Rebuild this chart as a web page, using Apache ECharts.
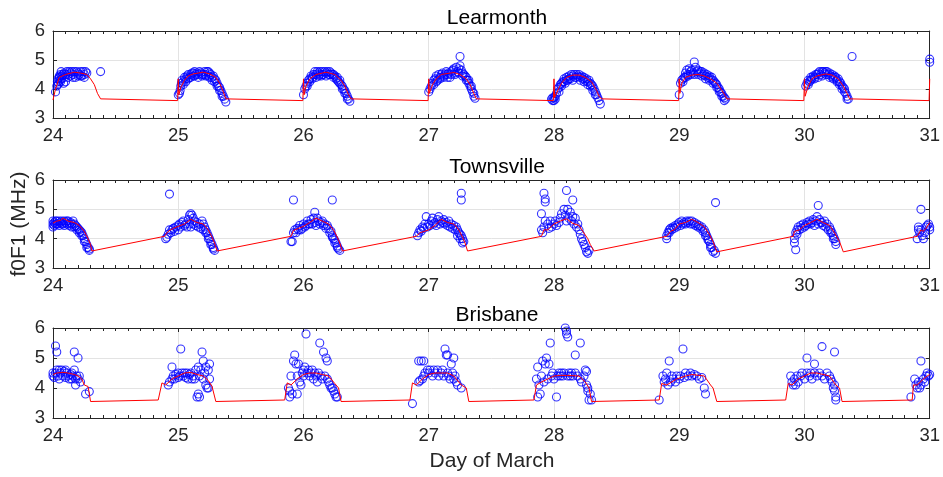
<!DOCTYPE html>
<html>
<head>
<meta charset="utf-8">
<script src="https://cdn.jsdelivr.net/npm/echarts@6/dist/echarts.min.js"></script>
<style>html,body{margin:0;padding:0;background:#fff}#c{width:943px;height:477px}</style>
</head>
<body>
<div id="c"></div>
<script>
const stationNames = ['Learmonth', 'Townsville', 'Brisbane'];
const xTicks = [24, 25, 26, 27, 28, 29, 30, 31];
const yTicks = [3, 4, 5, 6];
const yAxisTitle = 'f0F1 (MHz)';
const xAxisTitle = 'Day of March';

const learModel = [[24.0,3.62],[24.02,4.0],[24.05,4.4],[24.1,4.5],[24.17,4.58],[24.22,4.55],[24.27,4.5],[24.3,4.35],[24.33,4.15],[24.355,3.85],[24.36,3.8],[24.365,3.9],[24.37,3.85],[24.38,3.66],
[24.995,3.6],[25.0,4.35],[25.005,3.8],[25.02,4.05],[25.05,4.3],[25.08,4.45],[25.12,4.52],[25.2,4.58],[25.25,4.52],[25.3,4.4],[25.33,4.2],[25.36,3.9],[25.38,3.66],
[25.995,3.6],[26.0,4.35],[26.005,3.8],[26.02,4.1],[26.05,4.35],[26.1,4.5],[26.18,4.58],[26.25,4.5],[26.3,4.3],[26.33,4.1],[26.36,3.8],[26.38,3.66],
[26.995,3.6],[27.0,4.35],[27.005,3.85],[27.03,4.15],[27.06,4.35],[27.1,4.5],[27.2,4.57],[27.25,4.5],[27.3,4.35],[27.33,4.15],[27.36,3.85],[27.38,3.66],
[27.995,3.6],[28.0,4.35],[28.005,3.7],[28.03,3.95],[28.06,4.2],[28.1,4.4],[28.15,4.48],[28.2,4.48],[28.25,4.4],[28.3,4.25],[28.34,3.95],[28.36,3.75],[28.38,3.66],
[28.995,3.6],[29.0,4.35],[29.005,3.85],[29.02,4.2],[29.05,4.4],[29.1,4.48],[29.15,4.5],[29.2,4.45],[29.25,4.35],[29.3,4.2],[29.34,3.95],[29.37,3.75],[29.38,3.66],
[29.995,3.6],[30.0,4.35],[30.005,3.75],[30.03,4.1],[30.06,4.35],[30.1,4.45],[30.17,4.52],[30.22,4.48],[30.27,4.35],[30.31,4.1],[30.34,3.85],[30.36,3.66],
[30.995,3.6],[31.0,4.35]];

const learObs = [[24.02,3.9],[24.03,4.1],[24.035,4.25],[24.04,4.35],[24.045,4.2],[24.05,4.4],[24.055,4.3],[24.06,4.5],[24.065,4.6],[24.07,4.45],[24.08,4.5],[24.085,4.2],[24.09,4.55],[24.1,4.5],[24.1,4.25],[24.11,4.6],[24.12,4.5],[24.13,4.6],[24.14,4.55],[24.15,4.6],[24.16,4.5],[24.17,4.6],[24.18,4.4],[24.19,4.6],[24.2,4.55],[24.21,4.5],[24.22,4.6],[24.23,4.45],[24.24,4.6],[24.25,4.5],[24.26,4.6],[24.27,4.55],[24.38,4.6],
[24.05,4.45],[24.07,4.35],[24.09,4.4],[24.12,4.4],[24.14,4.45],[24.16,4.4],[24.2,4.45],[24.22,4.45],[24.25,4.4],[24.06,4.25],[24.04,4.15],
[25.0,3.8],[25.01,3.85],[25.015,3.95],[25.02,4.1],[25.025,4.2],[25.03,4.3],[25.04,4.25],[25.05,4.4],[25.06,4.35],[25.07,4.45],[25.08,4.5],[25.09,4.4],[25.1,4.5],[25.11,4.55],[25.12,4.45],[25.13,4.6],[25.14,4.5],[25.15,4.55],[25.16,4.5],[25.17,4.6],[25.18,4.55],[25.19,4.45],[25.2,4.5],[25.21,4.6],[25.22,4.5],[25.23,4.6],[25.24,4.45],[25.25,4.55],[25.26,4.5],[25.27,4.4],[25.28,4.45],[25.29,4.35],[25.3,4.3],[25.31,4.2],[25.32,4.1],[25.33,4.05],[25.34,3.95],[25.35,3.85],[25.36,3.75],[25.37,3.65],[25.38,3.55],
[25.04,4.15],[25.06,4.25],[25.08,4.35],[25.1,4.4],[25.13,4.45],[25.16,4.4],[25.19,4.5],[25.22,4.45],[25.25,4.4],[25.27,4.3],[25.29,4.25],[25.31,4.1],[25.33,3.95],[25.35,3.75],[25.12,4.55],[25.24,4.6],
[26.0,3.8],[26.01,4.0],[26.02,4.1],[26.03,4.2],[26.04,4.3],[26.05,4.35],[26.06,4.45],[26.07,4.4],[26.08,4.5],[26.09,4.6],[26.1,4.5],[26.11,4.6],[26.12,4.55],[26.13,4.6],[26.14,4.45],[26.15,4.6],[26.16,4.5],[26.17,4.6],[26.18,4.55],[26.19,4.6],[26.2,4.5],[26.21,4.6],[26.22,4.55],[26.23,4.5],[26.24,4.4],[26.25,4.45],[26.26,4.35],[26.27,4.3],[26.28,4.25],[26.29,4.2],[26.3,4.15],[26.31,4.1],[26.32,4.0],[26.33,3.95],[26.34,3.85],[26.35,3.75],[26.36,3.65],[26.37,3.58],
[26.03,4.1],[26.05,4.25],[26.07,4.35],[26.1,4.4],[26.12,4.45],[26.15,4.5],[26.18,4.45],[26.21,4.5],[26.24,4.5],[26.27,4.4],[26.29,4.3],[26.31,4.0],[26.33,3.85],[26.35,3.65],[26.13,4.5],
[27.0,3.9],[27.01,4.0],[27.02,4.1],[27.03,4.2],[27.04,4.3],[27.05,4.35],[27.06,4.45],[27.07,4.3],[27.08,4.5],[27.09,4.4],[27.1,4.5],[27.11,4.55],[27.12,4.45],[27.13,4.5],[27.14,4.6],[27.15,4.5],[27.16,4.55],[27.17,4.4],[27.18,4.6],[27.19,4.65],[27.2,4.7],[27.21,4.55],[27.22,4.75],[27.23,4.6],[27.24,4.7],[27.25,5.12],[27.25,4.8],[27.26,4.65],[27.27,4.55],[27.28,4.5],[27.29,4.45],[27.3,4.4],[27.31,4.3],[27.32,4.2],[27.33,4.1],[27.34,4.0],[27.35,3.9],[27.36,3.75],[27.37,3.68],
[27.04,4.15],[27.06,4.25],[27.09,4.35],[27.12,4.4],[27.15,4.4],[27.18,4.5],[27.21,4.5],[27.24,4.55],[27.27,4.45],[27.3,4.3],[27.32,4.3],[27.34,4.1],[27.36,3.85],
[27.98,3.65],[27.99,3.6],[28.0,3.6],[28.0,3.7],[28.01,3.75],[28.02,3.85],[28.03,4.0],[28.04,3.9],[28.05,4.15],[28.06,4.1],[28.07,4.25],[28.08,4.35],[28.09,4.2],[28.1,4.4],[28.11,4.3],[28.12,4.45],[28.13,4.35],[28.14,4.5],[28.15,4.45],[28.16,4.5],[28.17,4.4],[28.18,4.5],[28.19,4.45],[28.2,4.5],[28.21,4.4],[28.22,4.45],[28.23,4.35],[28.24,4.4],[28.25,4.3],[28.26,4.35],[28.27,4.25],[28.28,4.3],[28.29,4.2],[28.3,4.15],[28.31,4.1],[28.32,4.0],[28.33,3.9],[28.34,3.8],[28.35,3.7],[28.36,3.6],[28.37,3.48],
[28.04,4.05],[28.06,4.2],[28.08,4.25],[28.1,4.3],[28.12,4.35],[28.15,4.3],[28.18,4.4],[28.21,4.3],[28.24,4.25],[28.27,4.15],[28.29,4.1],[28.31,3.95],[28.33,3.8],[28.01,3.65],[27.99,3.7],
[29.0,3.8],[29.01,4.2],[29.02,4.3],[29.03,4.35],[29.04,4.4],[29.05,4.55],[29.06,4.65],[29.07,4.5],[29.08,4.7],[29.09,4.6],[29.1,4.65],[29.11,4.55],[29.12,4.93],[29.13,4.75],[29.14,4.6],[29.15,4.65],[29.16,4.55],[29.17,4.6],[29.18,4.6],[29.19,4.5],[29.2,4.55],[29.21,4.45],[29.22,4.5],[29.23,4.4],[29.24,4.45],[29.25,4.35],[29.26,4.4],[29.27,4.3],[29.28,4.25],[29.29,4.2],[29.3,4.15],[29.31,4.05],[29.32,4.0],[29.33,3.9],[29.34,3.85],[29.35,3.75],[29.36,3.7],[29.37,3.65],
[29.03,4.25],[29.05,4.4],[29.07,4.45],[29.09,4.5],[29.12,4.5],[29.15,4.5],[29.18,4.45],[29.21,4.35],[29.24,4.3],[29.27,4.2],[29.3,4.05],[29.32,3.9],[29.34,3.75],[29.36,3.6],
[30.01,4.1],[30.02,4.2],[30.03,4.3],[30.04,4.25],[30.05,4.4],[30.06,4.35],[30.07,4.45],[30.08,4.4],[30.09,4.5],[30.1,4.5],[30.11,4.55],[30.12,4.6],[30.13,4.5],[30.14,4.6],[30.15,4.6],[30.16,4.55],[30.17,4.6],[30.18,4.6],[30.19,4.5],[30.2,4.55],[30.21,4.45],[30.22,4.5],[30.23,4.4],[30.24,4.45],[30.25,4.4],[30.26,4.3],[30.27,4.35],[30.28,4.25],[30.29,4.2],[30.3,4.1],[30.31,4.05],[30.32,4.0],[30.33,3.85],[30.34,3.75],[30.35,3.65],[30.38,5.12],
[30.03,4.15],[30.05,4.3],[30.08,4.35],[30.11,4.4],[30.14,4.45],[30.17,4.5],[30.2,4.4],[30.23,4.35],[30.26,4.25],[30.28,4.15],[30.3,4.0],[30.32,3.9],[30.34,3.65],
[31.0,5.03],[31.0,4.92]];

const townModel = [[24.0,4.53],[24.03,4.6],[24.06,4.62],[24.08,4.7],[24.12,4.6],[24.17,4.55],[24.21,4.45],[24.25,4.25],[24.28,4.0],[24.3,3.8],[24.31,3.58],
[24.89,4.08],[24.92,4.25],[24.96,4.35],[25.0,4.42],[25.05,4.5],[25.1,4.66],[25.15,4.55],[25.2,4.5],[25.24,4.3],[25.27,4.05],[25.29,3.85],[25.31,3.58],
[25.9,4.08],[25.92,4.28],[25.96,4.35],[26.0,4.42],[26.05,4.55],[26.1,4.7],[26.15,4.6],[26.2,4.5],[26.24,4.3],[26.27,4.05],[26.29,3.85],[26.31,3.58],
[26.9,4.08],[26.93,4.2],[27.0,4.3],[27.05,4.45],[27.1,4.66],[27.15,4.55],[27.2,4.5],[27.24,4.3],[27.27,4.05],[27.29,3.85],[27.31,3.58],
[27.9,4.08],[27.92,4.3],[27.95,4.3],[28.0,4.5],[28.05,4.6],[28.1,4.68],[28.15,4.52],[28.2,4.45],[28.23,4.25],[28.27,4.0],[28.29,3.8],[28.32,3.58],
[28.9,4.08],[28.93,4.25],[28.96,4.3],[29.0,4.5],[29.05,4.55],[29.1,4.66],[29.15,4.55],[29.2,4.4],[29.24,4.15],[29.27,3.9],[29.3,3.55],
[29.91,4.08],[29.92,4.25],[29.96,4.3],[30.0,4.45],[30.05,4.55],[30.1,4.66],[30.15,4.55],[30.2,4.45],[30.24,4.2],[30.28,3.9],[30.31,3.55],
[30.9,4.08],[30.93,4.3],[30.95,4.25],[30.97,4.35],[31.0,4.55]];

const townObs = [[24.0,4.4],[24.0,4.5],[24.0,4.6],[24.01,4.55],[24.02,4.5],[24.02,4.6],[24.03,4.6],[24.04,4.5],[24.05,4.6],[24.06,4.55],[24.07,4.6],[24.08,4.5],[24.09,4.6],[24.1,4.55],[24.11,4.5],[24.12,4.6],[24.13,4.5],[24.14,4.55],[24.15,4.4],[24.16,4.6],[24.17,4.5],[24.18,4.45],[24.19,4.4],[24.2,4.35],[24.21,4.3],[24.22,4.25],[24.23,4.2],[24.24,4.1],[24.25,4.0],[24.26,3.9],[24.27,3.8],[24.28,3.7],[24.29,3.6],
[24.01,4.45],[24.03,4.5],[24.05,4.45],[24.07,4.5],[24.09,4.45],[24.11,4.6],[24.13,4.45],[24.15,4.5],[24.17,4.4],[24.19,4.3],[24.21,4.2],[24.23,4.1],[24.25,3.9],[24.27,3.7],[24.29,3.65],
[24.93,5.52],[24.9,4.0],[24.91,4.05],[24.92,4.15],[24.93,4.3],[24.95,4.3],[24.96,4.35],[24.98,4.4],[25.0,4.45],[25.01,4.5],[25.03,4.55],[25.04,4.6],[25.06,4.5],[25.08,4.65],[25.09,4.8],[25.1,4.85],[25.11,4.8],[25.1,4.4],[25.12,4.7],[25.13,4.6],[25.15,4.55],[25.17,4.5],[25.19,4.6],[25.2,4.5],[25.21,4.4],[25.22,4.3],[25.23,4.2],[25.24,4.1],[25.25,4.0],[25.26,3.9],[25.27,3.8],[25.28,3.7],[25.29,3.6],
[24.94,4.2],[24.97,4.25],[25.0,4.3],[25.02,4.4],[25.05,4.45],[25.07,4.4],[25.09,4.5],[25.12,4.5],[25.14,4.45],[25.16,4.4],[25.18,4.35],[25.2,4.3],[25.22,4.2],[25.24,4.0],[25.26,3.8],[25.28,3.65],
[25.92,5.32],[26.23,5.32],[25.9,3.9],[25.91,3.9],[25.92,4.2],[25.93,4.3],[25.95,4.35],[25.97,4.45],[25.98,4.3],[26.0,4.5],[26.01,4.4],[26.03,4.6],[26.05,4.5],[26.06,4.65],[26.08,4.7],[26.09,4.9],[26.1,4.45],[26.11,4.7],[26.12,4.6],[26.14,4.55],[26.15,4.6],[26.17,4.5],[26.19,4.45],[26.2,4.35],[26.22,4.25],[26.23,4.1],[26.24,4.0],[26.25,3.95],[26.26,3.85],[26.27,3.75],[26.28,3.65],[26.29,3.6],
[25.94,4.2],[25.96,4.3],[25.99,4.35],[26.02,4.45],[26.04,4.5],[26.07,4.5],[26.09,4.55],[26.13,4.5],[26.16,4.45],[26.18,4.35],[26.21,4.2],[26.23,4.05],[26.25,3.85],[26.27,3.7],
[27.26,5.55],[27.26,5.32],[26.91,4.1],[26.92,4.2],[26.93,4.3],[26.95,4.4],[26.97,4.5],[26.98,4.75],[27.0,4.5],[27.02,4.6],[27.03,4.7],[27.05,4.55],[27.07,4.65],[27.08,4.75],[27.1,4.6],[27.12,4.65],[27.14,4.55],[27.16,4.6],[27.18,4.5],[27.2,4.45],[27.22,4.4],[27.23,4.3],[27.24,4.2],[27.25,4.15],[27.26,4.1],[27.27,4.0],[27.28,3.9],
[26.94,4.25],[26.96,4.35],[26.99,4.4],[27.01,4.45],[27.04,4.5],[27.06,4.45],[27.09,4.5],[27.11,4.55],[27.13,4.5],[27.15,4.45],[27.17,4.4],[27.19,4.35],[27.21,4.3],[27.23,4.1],[27.25,4.0],[27.27,3.85],
[27.92,5.55],[27.93,5.35],[27.93,5.25],[27.9,4.85],[27.9,4.3],[27.91,4.2],[27.92,4.4],[27.93,4.6],[27.95,4.5],[27.96,4.35],[27.97,4.6],[27.98,4.4],[28.0,4.5],[28.01,4.6],[28.02,4.45],[28.04,4.55],[28.05,4.7],[28.06,4.85],[28.08,5.0],[28.09,4.8],[28.1,5.64],[28.1,4.6],[28.11,5.0],[28.12,4.7],[28.13,4.9],[28.14,4.6],[28.15,5.32],[28.15,4.75],[28.16,4.5],[28.17,4.7],[28.18,4.4],[28.19,4.5],[28.2,4.3],[28.21,4.15],[28.22,4.0],[28.23,3.9],[28.24,3.8],[28.25,3.7],[28.26,3.55],[28.27,3.5],[28.28,3.6],
[28.9,4.0],[28.9,4.1],[28.91,4.2],[28.92,4.3],[28.93,4.35],[28.95,4.4],[28.97,4.45],[28.99,4.5],[29.0,4.55],[29.02,4.6],[29.04,4.55],[29.06,4.6],[29.08,4.6],[29.1,4.6],[29.12,4.55],[29.14,4.5],[29.16,4.45],[29.18,4.4],[29.2,4.3],[29.21,4.2],[29.22,4.1],[29.23,4.0],[29.24,3.9],[29.25,3.8],[29.26,3.7],[29.28,3.6],[29.29,3.5],[29.29,5.23],
[28.92,4.2],[28.94,4.3],[28.96,4.35],[28.98,4.4],[29.01,4.45],[29.03,4.5],[29.05,4.5],[29.07,4.55],[29.09,4.5],[29.11,4.5],[29.13,4.45],[29.15,4.4],[29.17,4.35],[29.19,4.25],[29.21,4.1],[29.23,3.95],[29.25,3.7],[29.27,3.55],
[29.92,4.0],[29.92,3.85],[29.93,3.62],[29.93,4.2],[29.94,4.3],[29.95,4.4],[29.97,4.45],[29.99,4.5],[30.0,4.4],[30.02,4.55],[30.04,4.6],[30.05,4.5],[30.07,4.65],[30.09,4.6],[30.11,5.13],[30.1,4.75],[30.12,4.65],[30.14,4.55],[30.16,4.6],[30.18,4.5],[30.2,4.4],[30.21,4.3],[30.22,4.2],[30.23,4.1],[30.24,4.0],[30.25,3.9],
[29.94,4.15],[29.96,4.3],[29.98,4.35],[30.01,4.45],[30.03,4.5],[30.06,4.55],[30.08,4.45],[30.11,4.5],[30.13,4.55],[30.15,4.45],[30.17,4.4],[30.19,4.3],[30.21,4.2],[30.23,4.0],[30.25,3.8],
[30.9,4.0],[30.91,4.4],[30.91,4.3],[30.92,4.2],[30.93,5.0],[30.93,4.3],[30.94,4.1],[30.95,4.0],[30.96,4.2],[30.97,4.4],[30.98,4.45],[30.99,4.5],[31.0,4.4],[31.0,4.3]];

const brisModel = [[24.0,4.45],[24.03,4.5],[24.08,4.52],[24.12,4.5],[24.17,4.45],[24.2,4.4],[24.23,4.3],[24.25,4.1],[24.28,4.05],[24.3,3.55],
[24.84,3.6],[24.87,4.17],[24.9,4.1],[24.95,4.3],[25.0,4.4],[25.05,4.5],[25.1,4.52],[25.15,4.45],[25.2,4.4],[25.24,4.25],[25.27,4.05],[25.3,3.55],
[25.85,3.6],[25.87,4.17],[25.9,4.1],[25.95,4.3],[26.0,4.45],[26.05,4.5],[26.1,4.5],[26.15,4.45],[26.2,4.4],[26.25,4.15],[26.28,4.0],[26.3,3.55],
[26.85,3.6],[26.87,4.17],[26.9,4.1],[26.95,4.3],[27.0,4.45],[27.05,4.5],[27.1,4.5],[27.15,4.5],[27.2,4.4],[27.26,4.1],[27.3,4.0],[27.32,3.55],
[27.84,3.6],[27.86,4.1],[27.9,4.2],[27.95,4.3],[28.0,4.4],[28.05,4.42],[28.1,4.42],[28.2,4.4],[28.25,4.2],[28.28,4.0],[28.3,3.55],
[28.84,3.6],[28.86,4.15],[28.9,4.1],[28.98,4.3],[29.05,4.4],[29.1,4.45],[29.2,4.4],[29.25,4.1],[29.27,4.0],[29.3,3.55],
[29.85,3.6],[29.87,4.15],[29.9,4.1],[29.95,4.3],[30.0,4.4],[30.05,4.5],[30.1,4.5],[30.2,4.4],[30.25,4.1],[30.28,4.0],[30.3,3.55],
[30.86,3.6],[30.87,4.1],[30.9,4.1],[30.95,4.3],[30.98,4.4],[31.0,4.45]];

const brisObs = [[24.0,4.4],[24.0,4.5],[24.01,4.35],[24.02,5.4],[24.03,5.2],[24.02,4.5],[24.03,4.6],[24.04,4.4],[24.05,4.6],[24.05,4.3],[24.06,4.5],[24.07,4.6],[24.08,4.4],[24.09,4.55],[24.1,4.6],[24.1,4.35],[24.11,4.5],[24.12,4.4],[24.13,4.3],[24.14,4.45],[24.15,4.5],[24.15,4.3],[24.16,4.4],[24.17,5.2],[24.17,4.6],[24.18,4.1],[24.18,4.3],[24.19,4.4],[24.2,5.0],[24.2,4.3],[24.21,4.4],[24.22,4.2],[24.26,3.8],[24.29,3.88],
[24.92,4.1],[24.93,4.2],[24.95,4.7],[24.95,4.3],[24.96,4.4],[24.97,4.3],[24.98,4.45],[25.0,4.5],[25.0,4.35],[25.01,4.4],[25.02,5.3],[25.03,4.5],[25.04,4.4],[25.05,4.5],[25.06,4.35],[25.07,4.5],[25.08,4.3],[25.09,4.45],[25.1,4.5],[25.11,4.3],[25.12,4.4],[25.13,4.3],[25.14,4.6],[25.15,3.7],[25.16,4.7],[25.16,3.8],[25.17,4.4],[25.17,3.7],[25.18,4.6],[25.19,5.2],[25.2,4.9],[25.2,4.3],[25.21,4.5],[25.22,4.7],[25.22,4.1],[25.23,4.0],[25.24,4.6],[25.25,4.8],[25.25,4.3],[25.24,4.0],
[25.88,4.0],[25.89,3.9],[25.89,3.7],[25.9,4.4],[25.91,3.8],[25.92,4.9],[25.93,5.1],[25.94,4.8],[25.95,4.4],[25.95,3.8],[25.96,4.8],[25.97,4.2],[25.98,4.1],[25.99,4.5],[26.0,4.6],[26.0,4.4],[26.01,4.7],[26.02,5.8],[26.03,4.5],[26.04,4.6],[26.05,4.4],[26.06,4.5],[26.07,4.6],[26.08,4.3],[26.09,4.5],[26.1,4.4],[26.11,4.2],[26.12,4.5],[26.13,5.5],[26.14,4.4],[26.15,4.3],[26.16,5.2],[26.17,4.4],[26.18,5.0],[26.19,4.9],[26.19,4.3],[26.2,4.2],[26.21,4.1],[26.22,4.0],[26.23,4.0],[26.24,3.9],[26.25,3.8],[26.26,3.7],[26.27,3.7],
[26.87,3.48],[26.92,4.9],[26.94,4.9],[26.96,4.9],[26.92,4.2],[26.93,4.25],[26.95,4.3],[26.96,4.4],[26.97,4.5],[26.99,4.6],[27.0,4.5],[27.01,4.6],[27.03,4.4],[27.04,4.6],[27.05,4.5],[27.07,4.6],[27.08,4.4],[27.1,4.5],[27.11,4.6],[27.12,4.4],[27.13,5.3],[27.14,5.1],[27.15,5.1],[27.15,4.5],[27.16,4.4],[27.17,4.3],[27.18,4.8],[27.19,4.5],[27.2,5.0],[27.2,4.3],[27.21,4.4],[27.22,4.2],[27.23,4.1],[27.26,4.0],
[27.86,4.3],[27.87,4.7],[27.87,3.7],[27.88,4.1],[27.89,3.8],[27.9,4.4],[27.91,4.9],[27.92,4.2],[27.93,4.8],[27.94,5.0],[27.95,4.3],[27.96,4.8],[27.97,5.5],[27.98,4.4],[27.99,4.5],[28.0,4.3],[28.02,3.7],[28.03,4.4],[28.04,4.5],[28.05,4.4],[28.06,4.5],[28.07,4.4],[28.08,4.5],[28.09,6.0],[28.1,5.9],[28.1,5.8],[28.11,5.7],[28.11,4.4],[28.12,4.5],[28.13,4.4],[28.14,4.5],[28.15,4.4],[28.17,5.1],[28.17,4.5],[28.19,4.4],[28.21,5.5],[28.21,4.3],[28.22,4.2],[28.24,4.4],[28.25,4.6],[28.26,4.55],[28.26,4.1],[28.27,4.0],[28.27,3.9],[28.28,3.6],[28.29,3.8],[28.3,3.6],
[28.84,3.6],[28.87,4.4],[28.88,4.2],[28.89,4.3],[28.9,4.5],[28.91,4.1],[28.92,4.9],[28.93,4.2],[28.94,4.4],[28.95,4.3],[28.97,4.2],[28.98,4.4],[29.0,4.3],[29.01,4.4],[29.03,5.3],[29.04,4.35],[29.05,4.5],[29.07,4.4],[29.09,4.5],[29.1,4.4],[29.12,4.45],[29.14,4.4],[29.16,4.3],[29.18,4.35],[29.2,4.0],[29.21,3.8],
[29.89,4.4],[29.9,4.2],[29.91,4.1],[29.92,4.3],[29.93,4.1],[29.94,4.4],[29.95,4.2],[29.97,4.4],[29.98,4.5],[30.0,4.3],[30.02,5.0],[30.02,4.5],[30.04,4.4],[30.05,4.5],[30.06,4.3],[30.08,4.8],[30.08,4.5],[30.1,4.4],[30.12,4.5],[30.14,5.38],[30.14,4.4],[30.16,4.3],[30.18,4.5],[30.2,4.4],[30.21,4.3],[30.22,4.2],[30.23,4.0],[30.24,5.2],[30.24,3.9],[30.25,3.7],[30.25,3.6],[30.24,4.1],
[30.85,3.7],[30.88,4.3],[30.89,4.1],[30.9,4.0],[30.91,4.2],[30.92,4.0],[30.93,4.9],[30.93,4.1],[30.95,4.3],[30.96,4.2],[30.97,4.4],[30.98,4.5],[30.99,4.4],[31.0,4.45]];

const models = [learModel, townModel, brisModel];
const observations = [learObs, townObs, brisObs];

const FONT = '"Liberation Sans", Arial, Helvetica, sans-serif';
const AX = '#262626';
const gridDefs = [{top: 31, height: 87}, {top: 180, height: 88}, {top: 328, height: 90}];

const grids = [], xAxes = [], yAxes = [], series = [], titles = [];
gridDefs.forEach((g, i) => {
  grids.push({left: 53, right: 12, top: g.top, height: g.height, show: false});
  const xBase = {
    type: 'value', gridIndex: i, min: xTicks[0], max: xTicks[xTicks.length - 1], interval: 1,
    axisLine: {show: true, onZero: false, lineStyle: {color: AX, width: 1}},
    axisTick: {show: true, inside: true, length: 4, lineStyle: {color: AX}},
    minorTick: {show: true, splitNumber: 10, length: 3, lineStyle: {color: AX}}
  };
  xAxes.push(Object.assign({}, xBase, {
    position: 'bottom',
    axisLabel: {show: true, fontSize: 18.5, color: AX, fontFamily: FONT, margin: 8},
    splitLine: {show: true, lineStyle: {color: '#e3e3e3', width: 1}}
  }));
  xAxes.push(Object.assign({}, xBase, {
    position: 'top', axisLabel: {show: false}, splitLine: {show: false}
  }));
  const yBase = {
    type: 'value', gridIndex: i, min: yTicks[0], max: yTicks[yTicks.length - 1], interval: 1,
    axisLine: {show: true, onZero: false, lineStyle: {color: AX, width: 1}},
    axisTick: {show: true, inside: true, length: 4, lineStyle: {color: AX}}
  };
  yAxes.push(Object.assign({}, yBase, {
    position: 'left',
    axisLabel: {show: true, fontSize: 18.5, color: AX, fontFamily: FONT, margin: 8},
    splitLine: {show: true, lineStyle: {color: '#e3e3e3', width: 1}}
  }));
  yAxes.push(Object.assign({}, yBase, {
    position: 'right', axisLabel: {show: false}, splitLine: {show: false}
  }));
  series.push({
    type: 'scatter', xAxisIndex: 2 * i, yAxisIndex: 2 * i, data: observations[i],
    symbol: 'circle', symbolSize: 8, clip: false, silent: true,
    itemStyle: {color: 'rgba(0,0,0,0)', borderColor: '#0000ff', borderWidth: 1.1},
    z: 2
  });
  series.push({
    type: 'line', xAxisIndex: 2 * i, yAxisIndex: 2 * i, data: models[i],
    showSymbol: false, symbol: 'none', silent: true,
    lineStyle: {color: '#ff0000', width: 1}, z: 3
  });
  titles.push({
    text: stationNames[i], left: 492, top: g.top - 28, textAlign: 'center',
    textStyle: {fontSize: 21, fontWeight: 'normal', color: '#000', fontFamily: FONT}
  });
});

const chart = echarts.init(document.getElementById('c'), null, {renderer: 'canvas'});
chart.setOption({
  animation: false,
  backgroundColor: '#fff',
  title: titles,
  grid: grids,
  xAxis: xAxes,
  yAxis: yAxes,
  series: series,
  graphic: [
    {type: 'text', x: 19.5, y: 224, rotation: Math.PI / 2, silent: true,
     style: {text: yAxisTitle, fill: AX, font: '21px ' + FONT, align: 'center', verticalAlign: 'middle'}},
    {type: 'text', x: 492, y: 461, silent: true,
     style: {text: xAxisTitle, fill: AX, font: '21px ' + FONT, align: 'center', verticalAlign: 'middle'}}
  ]
});
</script>
</body>
</html>
